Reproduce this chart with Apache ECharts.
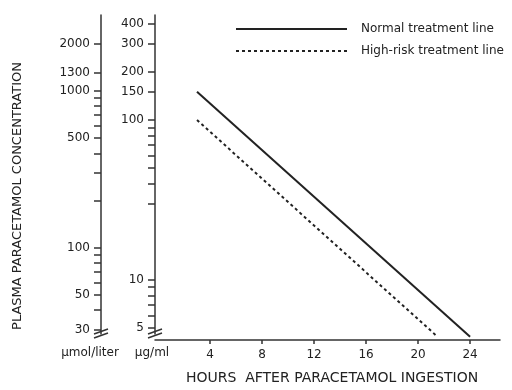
<!DOCTYPE html>
<html>
<head>
<meta charset="utf-8">
<script src="https://cdn.jsdelivr.net/npm/echarts@6/dist/echarts.min.js"></script>
<style>
html, body { margin: 0; padding: 0; background: #fff; }
#chart { width: 512px; height: 390px; }
</style>
</head>
<body>
<div id="chart"></div>
<script>
// treatment lines: [hours, plasma concentration in µg/ml]
var normalLine = [[3, 150], [24, 4.4]];
var highRiskLine = [[3, 100], [21.5, 4.4]];

var hourTicks = [4, 8, 12, 16, 20, 24];
var ugTicks = [400, 300, 200, 150, 100, 90, 80, 70, 60, 50, 40, 30, 10, 9, 8, 7, 6, 5];
var ugLabels = [400, 300, 200, 150, 100, 10, 5];
var umolTicks = [2000, 1300, 1000, 900, 800, 700, 600, 500, 400, 300, 200, 100, 90, 80, 70, 60, 50, 40, 30];
var umolLabels = [2000, 1300, 1000, 500, 100, 50, 30];

var font = 'DejaVu Sans';
var ink = '#222';
var GRID_LEFT = 155, GRID_TOP = 15, GRID_BOTTOM = 56, UMOL_OFFSET = 54;

function toLog(arr) {
  return arr.map(function (v) { return Math.log10(v); });
}

function logAxis(lo, hi, ticks, labels, offset, name, namePad) {
  return {
    type: 'value',
    position: 'left',
    offset: offset,
    min: Math.log10(lo),
    max: Math.log10(hi),
    name: name,
    nameLocation: 'start',
    nameGap: 13,
    nameTextStyle: { fontFamily: font, fontSize: 12, color: ink, padding: namePad },
    axisLine: { show: true, onZero: false, lineStyle: { color: '#333', width: 1.5 } },
    axisTick: { show: true, length: 7, customValues: toLog(ticks), lineStyle: { color: '#333', width: 1.5 } },
    axisLabel: {
      customValues: toLog(labels),
      margin: 11,
      fontFamily: font, fontSize: 12, color: ink,
      formatter: function (v) { return Math.round(Math.pow(10, v)); }
    },
    splitLine: { show: false }
  };
}

var chart = echarts.init(document.getElementById('chart'));

var option = {
  animation: false,
  backgroundColor: '#fff',
  grid: { left: GRID_LEFT, right: 12, top: GRID_TOP, bottom: GRID_BOTTOM, outerBoundsMode: 'none' },
  legend: {
    orient: 'vertical',
    left: 230,
    top: 18,
    itemWidth: 111,
    itemHeight: 12,
    itemGap: 10,
    itemStyle: { opacity: 0 },
    textStyle: { fontFamily: font, fontSize: 12, color: ink, padding: [0, 0, 0, 9] },
    data: ['Normal treatment line', 'High-risk treatment line']
  },
  xAxis: {
    type: 'value',
    min: -0.23,
    max: 26.3,
    offset: 6,
    name: 'HOURS  AFTER PARACETAMOL INGESTION',
    nameLocation: 'middle',
    nameGap: 31,
    nameTextStyle: { fontFamily: font, fontSize: 14, color: ink, padding: [0, 0, 0, 9] },
    axisLine: { onZero: false, lineStyle: { color: '#333', width: 1.5 } },
    axisTick: { length: 4, customValues: hourTicks, lineStyle: { color: '#333', width: 1.5 } },
    axisLabel: { customValues: hourTicks, margin: 9, fontFamily: font, fontSize: 12, color: ink },
    splitLine: { show: false }
  },
  yAxis: [
    logAxis(4.58, 454, ugTicks, ugLabels, 0, 'µg/ml', [0, 6, 0, 0]),
    logAxis(28.1, 3055, umolTicks, umolLabels, UMOL_OFFSET, 'µmol/liter', [0, 22, 0, 0])
  ],
  series: [
    {
      name: 'Normal treatment line',
      type: 'line',
      yAxisIndex: 0,
      symbol: 'none',
      clip: false,
      data: normalLine.map(function (p) { return [p[0], Math.log10(p[1])]; }),
      itemStyle: { color: ink },
      lineStyle: { color: ink, width: 2 }
    },
    {
      name: 'High-risk treatment line',
      type: 'line',
      yAxisIndex: 0,
      symbol: 'none',
      clip: false,
      data: highRiskLine.map(function (p) { return [p[0], Math.log10(p[1])]; }),
      itemStyle: { color: ink },
      lineStyle: { color: ink, width: 2, type: [3, 3] }
    }
  ]
};

// axis break marks "//" at the foot of both vertical axes
var breakY = 390 - GRID_BOTTOM;
var breaks = [];
[GRID_LEFT, GRID_LEFT - UMOL_OFFSET].forEach(function (ax) {
  [0, 4].forEach(function (d) {
    breaks.push({
      type: 'line',
      z: 100,
      shape: { x1: ax - 7, y1: breakY + d, x2: ax + 7, y2: breakY + d - 5 },
      style: { stroke: '#333', lineWidth: 1.5 }
    });
  });
});

option.graphic = breaks.concat([{
  type: 'text',
  x: 18,
  y: 196,
  rotation: Math.PI / 2,
  style: {
    text: 'PLASMA PARACETAMOL CONCENTRATION',
    fontFamily: font, fontSize: 13, fill: ink,
    align: 'center', verticalAlign: 'middle'
  }
}]);

chart.setOption(option);
</script>
</body>
</html>
